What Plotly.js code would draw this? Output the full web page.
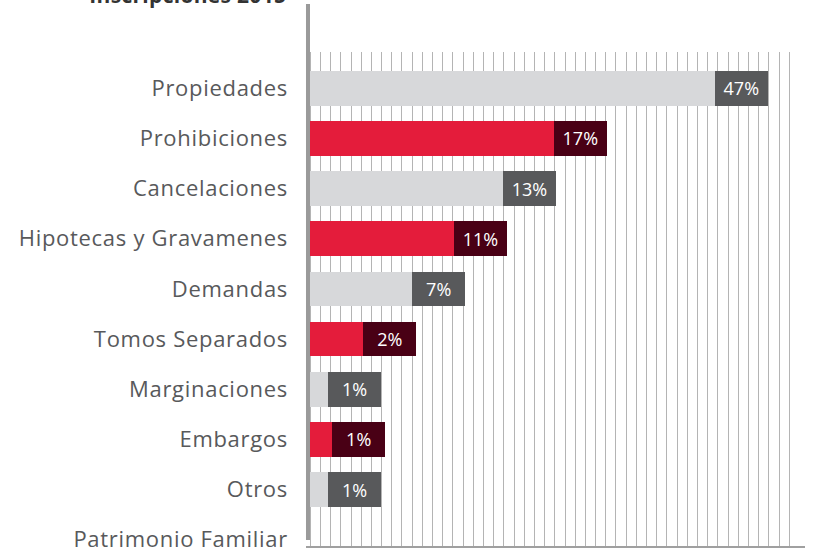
<!DOCTYPE html>
<html>
<head>
<meta charset="utf-8">
<script src="https://cdn.plot.ly/plotly-3.0.1.min.js"></script>
<style>
html,body{margin:0;padding:0;background:#fff;}
#chart{width:813px;height:548px;}
#chart .ytick text{letter-spacing:0.7px;}
#chart .annotation-text{letter-spacing:0.3px;}
</style>
</head>
<body>
<div id="chart"></div>
<script>
// Data
var categories = ["Propiedades","Prohibiciones","Cancelaciones","Hipotecas y Gravamenes","Demandas","Tomos Separados","Marginaciones","Embargos","Otros","Patrimonio Familiar"];
var percentLabels = ["47%","17%","13%","11%","7%","2%","1%","1%","1%",""];
var barValues = [39.7, 23.9, 18.9, 14.1, 10.0, 5.2, 1.75, 2.15, 1.75, null];
var seriesGroup = ["gris","rojo","gris","rojo","gris","rojo","gris","rojo","gris",""];
var chartTitle = "Inscripciones 2015";

var BOX = 5.2;
var lightColor = {gris:"#d7d8da", rojo:"#e41c3b", "":"rgba(0,0,0,0)"};
var darkColor  = {gris:"#58595b", rojo:"#490015", "":"rgba(0,0,0,0)"};

var gridVals = [];
for (var g = 0; g <= 47; g++) gridVals.push(g);

var labelFont = "Open Sans, Lato, sans-serif";

var trace1 = {
  type: "bar", orientation: "h",
  y: categories, x: barValues,
  marker: {color: seriesGroup.map(function(s){return lightColor[s];}), line:{width:0}},
  hoverinfo: "skip", showlegend: false
};
var trace2 = {
  type: "bar", orientation: "h",
  y: categories,
  x: barValues.map(function(v){return v === null ? null : BOX;}),
  text: percentLabels,
  textposition: "inside", insidetextanchor: "middle", constraintext: "none",
  textfont: {color: "#ffffff", size: 18, family: labelFont},
  marker: {color: seriesGroup.map(function(s){return darkColor[s];}), line:{width:0}},
  hoverinfo: "skip", showlegend: false
};

var layout = {
  width: 813, height: 548,
  margin: {l: 306, r: 8, t: 52, b: 2, pad: 0},
  paper_bgcolor: "#ffffff", plot_bgcolor: "#ffffff",
  barmode: "stack", bargap: 0.31,
  font: {family: labelFont, color: "#58595b"},
  xaxis: {
    range: [-0.42, 48.55], fixedrange: true,
    tickmode: "array", tickvals: gridVals, showticklabels: false, ticks: "",
    showgrid: true, gridcolor: "#b4b4b4", gridwidth: 1,
    zeroline: false, showline: true, linecolor: "#a0a0a0", linewidth: 2
  },
  yaxis: {
    range: [9.126, -0.724], fixedrange: true,
    showgrid: false, zeroline: false, showline: false, ticks: "",
    ticklabelstandoff: 17, automargin: false,
    tickfont: {size: 22, color: "#58595b", family: labelFont}
  },
  shapes: [{
    type: "line", xref: "paper", yref: "paper",
    x0: 0.004, x1: 0.004, y0: 0.012, y1: 1.097,
    line: {color: "#9a9a9a", width: 4}
  }],
  annotations: [{
    text: "<b>" + chartTitle + "</b>",
    xref: "paper", yref: "paper", x: 0, y: 1.082,
    xanchor: "right", yanchor: "bottom", xshift: -20,
    showarrow: false,
    font: {size: 21, color: "#333333", family: labelFont}
  }]
};

Plotly.newPlot("chart", [trace1, trace2], layout, {displayModeBar: false, staticPlot: true});
</script>
</body>
</html>
